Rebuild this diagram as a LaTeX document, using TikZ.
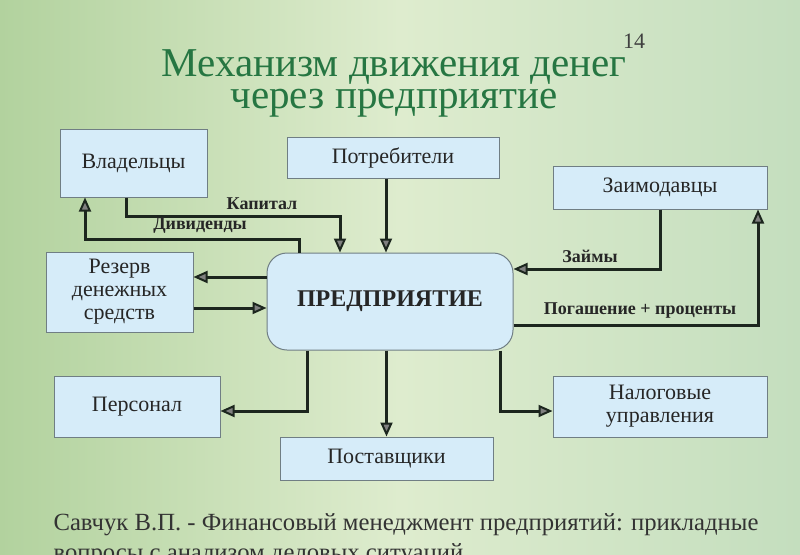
\documentclass[tikz,border=0pt]{standalone}
\usepackage{fontspec}
\setmainfont{Liberation Serif}
\usepackage{xcolor}
\definecolor{boxblue}{RGB}{214,236,249}
\definecolor{boxline}{RGB}{112,126,132}
\definecolor{titlegreen}{RGB}{38,118,66}
\definecolor{arrowdark}{RGB}{28,38,30}
\definecolor{bgleft}{RGB}{178,210,158}
\definecolor{bgmid}{RGB}{222,236,206}
\definecolor{bgright}{RGB}{196,222,190}
\usetikzlibrary{arrows.meta}

\tikzset{
  block/.style={draw=boxline, line width=1pt, fill=boxblue, text=black!85,
    font=\fontsize{22}{23}\selectfont, align=center, inner sep=0pt},
  flow/.style={draw=arrowdark, line width=3pt,
    -{Triangle[length=14pt,width=12pt,line width=2pt,fill=black!50]}},
  flowlabel/.style={font=\bfseries\fontsize{18}{20}\selectfont, text=black!85},
}

\begin{document}
\begin{tikzpicture}[x=1pt,y=-1pt]
        \useasboundingbox (0,0) rectangle (800,554);
        \shade[left color=bgleft, right color=bgright, middle color=bgmid] (0,0) rectangle (800,554);

        \node[anchor=base, font=\fontsize{22}{24}\selectfont, text=black!75] (pagenum) at (634,48) {14};
        \node[anchor=base, align=center, font=\fontsize{41}{32}\selectfont, text=titlegreen] (title) at (394,108)
          {Механизм движения денег\\через предприятие};

        \node[block, minimum width=147pt, minimum height=68pt] (own) at (133.5,163) {Владельцы};
        \node[block, minimum width=212pt, minimum height=41pt] (cons) at (393,157.5) {Потребители};
        \node[block, minimum width=214pt, minimum height=43pt] (lend) at (660,187.5) {Заимодавцы};
        \node[block, minimum width=147pt, minimum height=80pt] (res) at (119.5,292) {Резерв\\денежных\\средств};
        \node[block, minimum width=246pt, minimum height=97pt, rounded corners=20pt,
              font=\bfseries\fontsize{24}{26}\selectfont] (ent) at (390,301.5) {ПРЕДПРИЯТИЕ};
        \node[block, minimum width=166pt, minimum height=61pt] (staff) at (137,406.5) {Персонал};
        \node[block, minimum width=213pt, minimum height=43pt] (supp) at (386.5,458.5) {Поставщики};
        \node[block, minimum width=214pt, minimum height=61pt] (tax) at (660,406.5) {Налоговые\\управления};

        \draw[flow] ([xshift=-7.5pt]own.south) -- ++(0,19) -| ([xshift=-50pt]ent.north);
        \draw[flow] ([xshift=-91pt]ent.north) -- ++(0,-13) -| ([xshift=-48.5pt]own.south);
        \draw[flow] ([xshift=-7pt]cons.south) -- ([xshift=-4pt]ent.north);
        \draw[flow] (lend.south) |- ([yshift=32.5pt]ent.east);
        \draw[flow] ([yshift=-23.5pt]ent.east) -| ([xshift=98pt]lend.south);
        \draw[flow] ([yshift=24.5pt]ent.west) -- ([yshift=15pt]res.east);
        \draw[flow] ([yshift=-16pt]res.east) -- ([yshift=-6.5pt]ent.west);
        \draw[flow] ([xshift=-83pt]ent.south) |- ([yshift=-4.5pt]staff.east);
        \draw[flow] (ent.south -| supp.north) -- (supp.north);
        \draw[flow] ([xshift=110pt]ent.south) |- ([yshift=-4.5pt]tax.west);

        \node[flowlabel] (lkap) at (262,204) {Капитал};
        \node[flowlabel] (ldiv) at (200,226) {Дивиденды};
        \node[flowlabel] (lloan) at (590,256) {Займы};
        \node[flowlabel] (lrepay) at (640,311) {Погашение + проценты};

        \node[anchor=base west, align=left, font=\fontsize{24.7}{30}\selectfont, text=black!80] (src) at (50,560)
          {Савчук В.П. - Финансовый менеджмент предприятий: прикладные\\вопросы с анализом деловых ситуаций};
      \end{tikzpicture}
\end{document}
